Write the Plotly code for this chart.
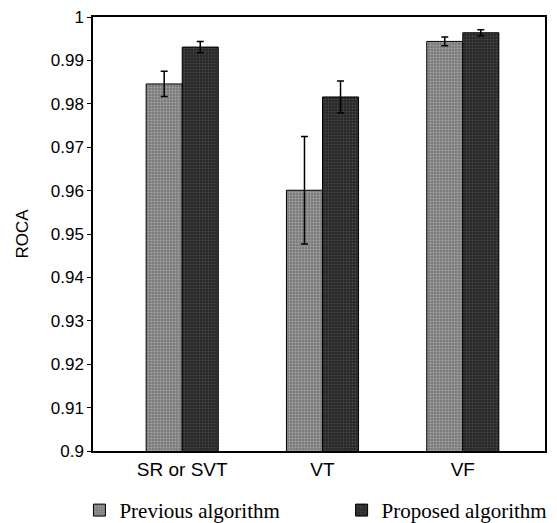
import plotly.graph_objects as go

categories = ["SR or SVT", "VT", "VF"]
previous_vals = [0.9846, 0.9601, 0.9944]
previous_err = [0.0029, 0.0124, 0.0010]
proposed_vals = [0.9931, 0.9816, 0.9964]
proposed_err = [0.0013, 0.0037, 0.0007]
tick_vals = [0.9, 0.91, 0.92, 0.93, 0.94, 0.95, 0.96, 0.97, 0.98, 0.99, 1.0]
tick_text = ["0.9", "0.91", "0.92", "0.93", "0.94", "0.95", "0.96", "0.97", "0.98", "0.99", "1"]

fig = go.Figure()
fig.add_trace(go.Bar(
    x=categories, y=previous_vals, name="Previous algorithm", legend="legend",
    marker=dict(color="#7a7a7a", line=dict(color="black", width=1),
                pattern=dict(shape=".", fgcolor="#cfcfcf", size=3, solidity=0.35, fillmode="overlay")),
    error_y=dict(type="data", array=previous_err, color="black", thickness=1.5, width=3.5),
))
fig.add_trace(go.Bar(
    x=categories, y=proposed_vals, name="Proposed algorithm", legend="legend2",
    marker=dict(color="#262626", line=dict(color="black", width=1),
                pattern=dict(shape=".", fgcolor="#686868", size=3, solidity=0.35, fillmode="overlay")),
    error_y=dict(type="data", array=proposed_err, color="black", thickness=1.5, width=3.5),
))

legend_font = dict(family="Liberation Serif, Times New Roman, serif", size=21, color="black")
fig.update_layout(
    width=549, height=515,
    margin=dict(l=85, r=12, t=9, b=72, autoexpand=False),
    paper_bgcolor="white", plot_bgcolor="white",
    barmode="group", bargap=0.486, bargroupgap=0,
    font=dict(family="Liberation Sans, Arial, sans-serif", color="black"),
    showlegend=True,
    legend=dict(orientation="h", x=-0.03, xanchor="left", y=-0.137, yanchor="middle",
                font=legend_font, bgcolor="rgba(0,0,0,0)"),
    legend2=dict(orientation="h", x=0.55, xanchor="left", y=-0.137, yanchor="middle",
                 font=legend_font, bgcolor="rgba(0,0,0,0)"),
)
fig.update_xaxes(
    range=[-0.636, 2.586], showline=True, linecolor="black", linewidth=1.5, mirror=True,
    ticks="", tickfont=dict(size=19), showgrid=False,
)
fig.update_yaxes(
    range=[0.9, 1.00003], showline=True, linecolor="black", linewidth=1.5, mirror=True,
    ticks="outside", ticklen=4, tickwidth=1, tickcolor="black",
    tickvals=tick_vals, ticktext=tick_text, tickfont=dict(size=17), showgrid=False,
    title=dict(text="ROCA", font=dict(size=17), standoff=18),
)

fig.write_html("out.html")
